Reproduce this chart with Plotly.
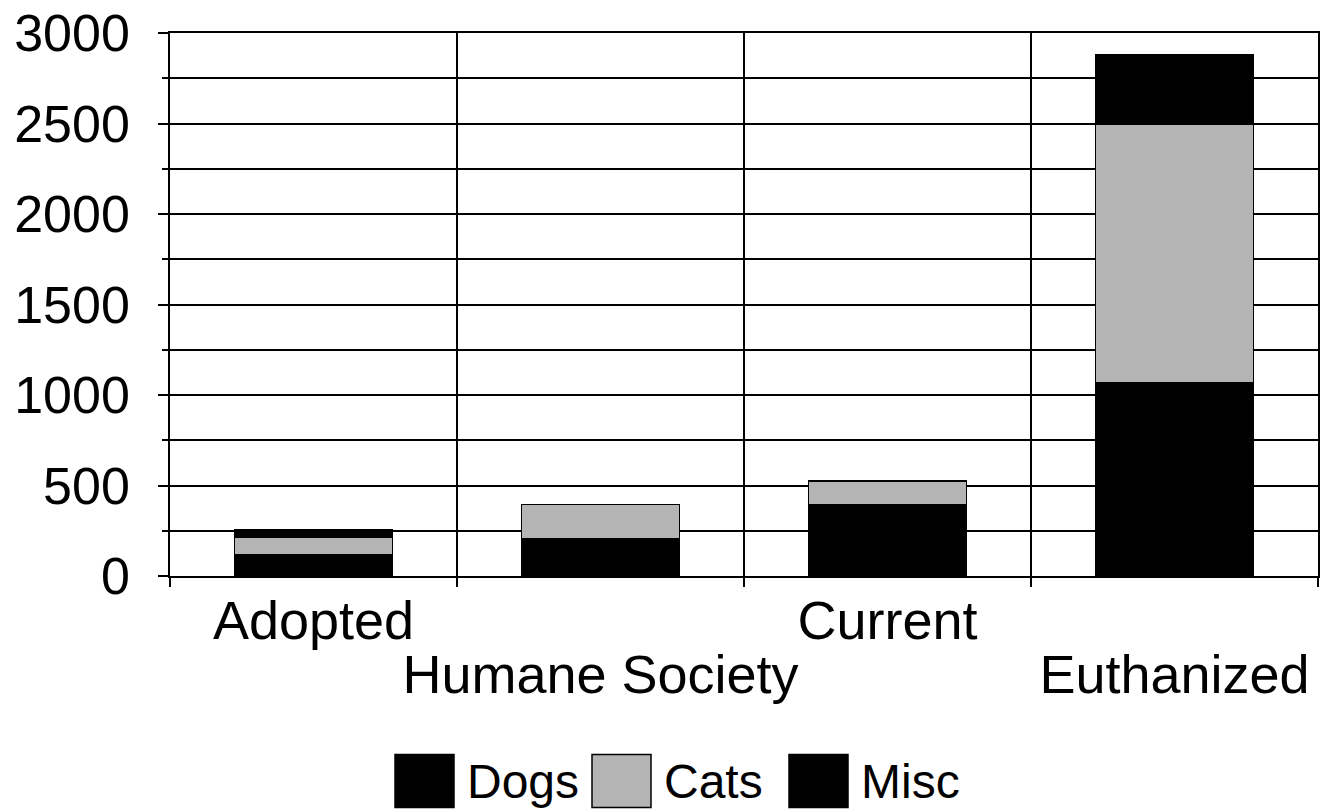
import plotly.graph_objects as go

categories = ["Adopted", "Humane Society", "Current", "Euthanized"]
series_names = ["Dogs", "Cats", "Misc"]
dogs = [115, 205, 395, 1065]
cats = [100, 190, 130, 1430]
misc = [40, 0, 0, 385]
series_values = [dogs, cats, misc]
series_colors = ["#000000", "#b4b4b4", "#000000"]

FONT = "Liberation Sans, Arial, sans-serif"
FS = 54
W, H = 1328, 812
L, R, T, B = 170, 10, 33, 236
PW, PH = W - L - R, H - T - B

xpos = list(range(len(categories)))
n = len(categories)

fig = go.Figure()
for name, vals, col in zip(series_names, series_values, series_colors):
    fig.add_trace(go.Bar(
        x=xpos, y=vals, name=name, showlegend=False,
        marker=dict(color=col, line=dict(color="#000000", width=1.5)),
        width=0.55,
    ))

# invisible traces to drive the helper axes
for ax in ["x2", "x3"]:
    fig.add_trace(go.Scatter(x=[-0.5, n - 0.5], y=[0, 0], xaxis=ax,
                             mode="markers", marker=dict(opacity=0), showlegend=False,
                             hoverinfo="skip"))

fig.update_layout(
    width=W, height=H,
    margin=dict(l=L, r=R, t=T, b=B),
    barmode="stack",
    plot_bgcolor="white", paper_bgcolor="white",
    font=dict(family=FONT, color="black", size=FS),
    xaxis=dict(
        range=[-0.5, n - 0.5],
        tickvals=xpos[0::2], ticktext=categories[0::2],
        showgrid=False, ticks="", showline=True, linecolor="black", linewidth=1.5,
        mirror=True, tickfont=dict(size=FS), zeroline=False, automargin=False,
        ticklabelstandoff=-4,
    ),
    xaxis2=dict(
        overlaying="x", side="bottom",
        range=[-0.5, n - 0.5],
        tickvals=[i - 0.5 for i in range(n + 1)],
        showticklabels=False, showgrid=True, gridcolor="black", gridwidth=1.5,
        ticks="outside", ticklen=10, tickcolor="black", tickwidth=1.5, zeroline=False,
        automargin=False,
    ),
    xaxis3=dict(
        overlaying="x", side="bottom",
        range=[-0.5, n - 0.5],
        tickvals=xpos[1::2], ticktext=categories[1::2],
        showgrid=False, ticks="", zeroline=False, automargin=False,
        tickfont=dict(size=FS), ticklabelstandoff=62,
    ),
    yaxis=dict(
        range=[0, 3000], dtick=500, tick0=0,
        showgrid=True, gridcolor="black", gridwidth=1.5,
        minor=dict(dtick=250, showgrid=True, gridcolor="black", gridwidth=1.5,
                   ticks="outside", ticklen=6, tickcolor="black"),
        ticks="outside", ticklen=10, tickcolor="black", tickwidth=1.5,
        showline=True, linecolor="black", linewidth=1.5, mirror=True,
        tickfont=dict(size=52), zeroline=False, automargin=False,
        ticklabelstandoff=18, ticklabeloverflow="allow",
    ),
)

# custom legend with large swatches (positions in pixels)
def px_x(px):
    return (px - L) / PW

def px_y(py):
    return (H - B - py) / PH

legend_x = [395, 592, 789]
sw, sh = 59, 53
cy = 781
for name, col, x0 in zip(series_names, series_colors, legend_x):
    fig.add_shape(type="rect", xref="paper", yref="paper",
                  x0=px_x(x0), x1=px_x(x0 + sw), y0=px_y(cy + sh / 2), y1=px_y(cy - sh / 2),
                  fillcolor=col, line=dict(color="black", width=1.5))
    fig.add_annotation(xref="paper", yref="paper", x=px_x(x0 + sw + 11), y=px_y(cy),
                       text=name, showarrow=False, xanchor="left", yanchor="middle",
                       font=dict(size=48, family=FONT, color="black"))

fig.write_html("out.html", config={"displayModeBar": False},
               post_script="document.body.style.margin='0';document.body.style.overflow='hidden';")
